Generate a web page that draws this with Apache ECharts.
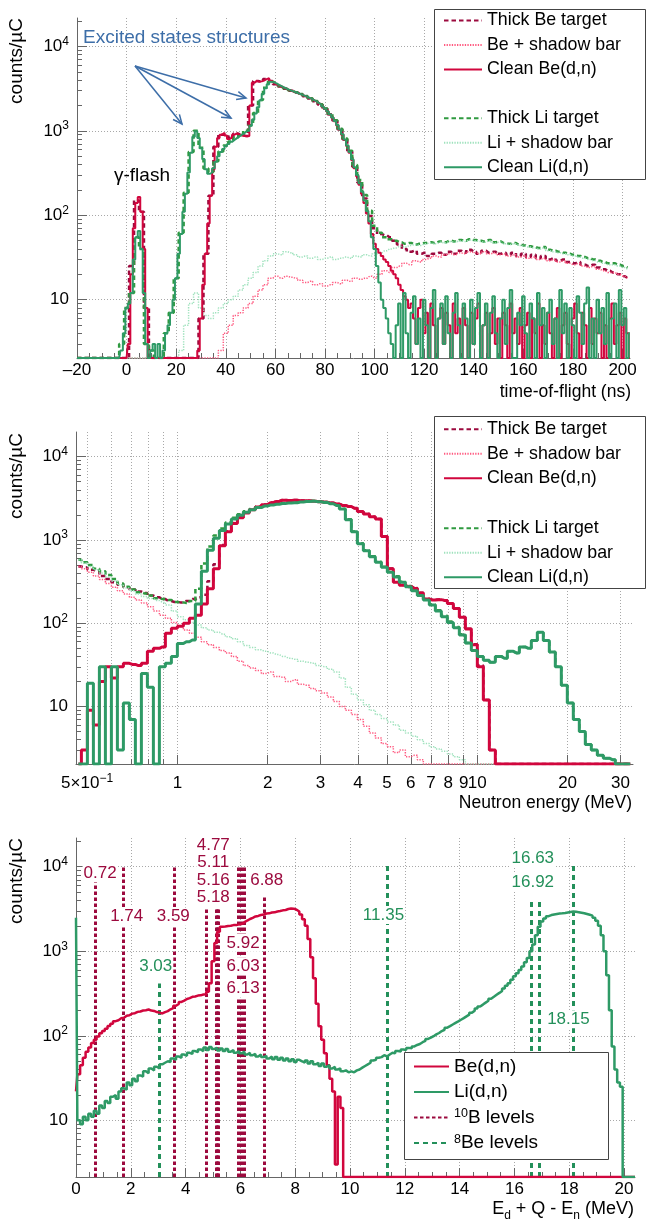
<!DOCTYPE html>
<html><head><meta charset="utf-8">
<script src="https://cdn.jsdelivr.net/npm/echarts@6/dist/echarts.min.js"></script>
<style>html,body{margin:0;padding:0;background:#fff}#c{width:648px;height:1223px}</style>
</head><body><div id="c"></div>
<script>
// ---------------- DATA ----------------
// Panel 1: time-of-flight spectra (counts/uC), 1 ns bins starting at -20 ns
const tofStart = -20, tofStep = 1;
const cleanBeTof = [
0,0,0,0,0,0,0,0,0,0, 0,0,0,0,0,0,0,0,0,0,
0,3,20,70,140,165,110,40,8,0, 0,0,0,0,0,0,0,0,0,0,
0,0,0,0,0,0,0,0,0,2.5, 6,15,35,80,170,350,650,820,900,950,
880,800,830,900,930,900,880,870,860,870, 2000,3700,3900,3800,3850,3950,4100,4200,3900,3700,
3550,3450,3350,3250,3150,3050,2980,2900,2830,2760, 2700,2620,2550,2470,2400,2320,2230,2140,2040,1930,
1810,1690,1560,1430,1300,1160,1030,900,780,660, 550,450,360,290,230,180,140,105,80,60,
46,40,36,33,30,28,25,22,20,18, 15,13,11,10,8,9,6,3,8,10,
4,7,2,9,5,0,6,8,3,7, 5,0,9,4,6,2,8,5,0,7,
3,6,9,2,5,7,0,4,8,3, 6,2,7,5,0,9,4,6,3,8,
0,5,7,2,6,4,9,0,5,3, 7,4,0,6,8,2,5,7,3,0,
6,9,4,2,7,5,0,8,3,6, 4,7,2,5,0,6,9,3,5,7,
2,6,4,0];
const cleanLiTof = [
0,0,0,0,0,0,0,0,0,0, 0,0,0,0,0,0,0,0,2.5,4,
8,9,12,30,55,65,40,12,3,0, 2.5,3,0,3,0,2.5,4,5,7,10,
18,35,60,110,180,320,550,850,990,820, 620,460,350,310,320,360,430,500,560,610,
660,700,740,780,820,860,900,940,990,1000, 1150,1350,1600,1900,2300,2750,3200,3550,3800,3750,
3650,3500,3380,3270,3170,3070,2990,2910,2840,2770, 2700,2630,2560,2480,2410,2330,2240,2150,2050,1940,
1820,1700,1570,1440,1310,1170,1040,910,790,670, 560,460,370,300,240,190,150,112,85,55,
40,25,16,10,8,6,4,3,0,5, 9,2,12,4,0,7,11,3,6,0,
10,5,2,8,13,0,6,9,3,11, 4,0,7,12,5,2,9,6,0,10,
3,8,12,0,5,9,2,7,11,4, 0,6,10,3,8,13,2,0,7,5,
11,4,0,9,6,2,12,5,8,0, 7,10,3,6,0,13,4,9,2,8,
5,0,11,7,3,9,14,2,6,0, 10,4,8,3,12,0,6,9,2,13,
5,8,0,4];
// 2 ns bins starting at -20 ns
const tof2Start = -20, tof2Step = 2;
const thickBeTof = [
0,0,0,0,0,0,0,0,0,0, 0,25,150,110,8,0,0,0,0,0,
0,0,0,0,0,6,35,170,650,900, 890,830,930,890,870,2000,3900,3850,4100,3900,
3560,3360,3160,2990,2840,2710,2560,2410,2240,2050, 1820,1575,1315,1045,795,565,375,245,158,98,
70,60,58,55,50,45,40,37,38,35, 36,33,35,36,34,37,35,38,36,39,
37,35,38,36,37,35,36,34,36,33, 35,32,34,31,33,30,31,29,30,28,
27,28,26,25,26,24,23,22,21,20, 19,18];
const beShadowTof = [
0,0,0,0,0,0,0,0,0,0, 0,0,0,0,0,0,0,0,0,0,
0,0,0,0,0,0,0,0,0,2.5, 4,5,6.5,7,8,9,11,13,15,18,
19,18,19,18.5,18,17,16,16.5,15,15.5, 14.5,15,16,15.5,17,16.5,18,17.5,18,19,
18,20,22,21,24,25,27,26,29,28, 30,31,33,32,34,35,34,36,35,37,
36,35,37,35,36,34,35,33,34,32, 33,31,32,30,31,29,30,28,29,27,
26,27,25,24,25,23,22,21,21,20, 19,18];
const thickLiTof = [
0,0,0,0,0,0,0,0,0,3, 8,12,55,40,3,2.5,0,0,4,7,
18,62,185,560,1000,630,357,326,437,568, 669,750,831,913,1005,1168,1621,2325,3229,3833,
3685,3384,3187,3016,2864,2732,2583,2431,2262,2070, 1841,1592,1330,1061,812,581,393,262,174,113,
75,62,55,52,50,48,46,47,45,46, 47,48,47,49,48,50,49,51,50,52,
51,50,49,51,48,49,47,46,47,45, 44,43,42,41,42,39,38,37,36,35,
34,33,32,31,30,29,28,27,27,26, 25,24];
const liShadowTof = [
0,0,0,0,0,0,0,0,0,0, 0,0,0,0,0,0,0,0,0,0,
0,2.5,5,9,12,8,6.5,6,7,8, 9,10,11,13,15,18,21,25,29,33,
35,34,37,36,34,32,33,31,32,30, 31,32,30,31,32,31,33,32,34,33,
35,36,38,40,41,43,42,44,45,44, 46,47,46,48,47,49,48,50,49,51,
50,49,48,50,47,48,46,45,46,44, 43,42,41,40,41,38,37,36,35,34,
33,32,31,30,29,28,27,26,26,25, 24,23];

// Panel 2: neutron energy spectra, bins in log10(E/MeV) from -0.33, step 0.02
const enLogStart = -0.33, enLogStep = 0.02;
const cleanBeEn = [
0,3,9,6,20,30,22,30,33,32, 31,33,46,50,52,76,87,92,100,115,
125,170,260,450,850,1250,1580,1850,2100,2300, 2480,2650,2800,2900,3000,2980,3000,2960,2950,2920,
2880,2840,2780,2700,2600,2520,2400,2200,2050,1900, 1780,1100,450,310,285,275,262,230,195,190,
192,188,172,150,118,85,55,30,12,3, 0,0,0,0,0,0,0,0,0,0,
0,0,0,0,0,0,0,0,0,0, 0,0,0];
const cleanLiEn = [
0,0,19,0,30,0,30,3,11,7, 0,25,17,0,30,33,40,57,60,63,
170,420,750,1050,1300,1550,1780,1980,2150,2300, 2450,2550,2620,2680,2730,2770,2800,2850,2900,2920,
2880,2820,2720,2600,2350,1750,1250,900,740,630, 540,470,410,360,310,275,245,215,190,165,
140,120,102,88,72,58,47,40,36,34, 40,38,46,44,52,50,62,78,62,45,
30,18,11,7,5,3.5,3,2.6,2.4,2.3, 0,0,0];
const thickBeEn = [
480,470,440,420,370,340,310,290,270,255, 240,230,215,205,195,185,180,178,185,195,
205,220,320,510,870,1270,1600,1870,2115,2315, 2495,2665,2815,2915,3015,2990,3010,2970,2960,2930,
2890,2850,2790,2710,2610,2530,2410,2210,2060,1905, 1785,1105,455,315,288,278,264,232,197,191,
193,189,173,151,119,86,56,31,12,3, 0,0,0,0,0,0,0,0,0,0,
0,0,0,0,0,0,0,0,0,0, 0,0,0];
const beShadowEn = [
480,450,410,370,335,300,270,245,225,205, 190,175,158,140,125,115,102,92,83,76,
68,60,55,51,47,44,40,35,31,29, 27,25,26,23,22.5,20,21,18.5,18,16.5,
15.5,14.5,13,11.5,10,9,8,7,5.8,4.8, 4.2,3.6,3.3,2.8,3.0,2.5,2.6,2.3,0,0,
0,0,0,0,0,0,0,0,0,0, 0,0,0,0,0,0,0,0,0,0,
0,0,0,0,0,0,0,0,0,0, 0,0,0];
const thickLiEn = [
580,540,500,450,420,380,340,300,275,255, 235,228,215,200,195,190,180,178,175,185,
260,520,835,1130,1375,1620,1845,2040,2205,2350, 2500,2595,2665,2720,2770,2810,2835,2885,2935,2955,
2910,2850,2750,2625,2372,1767,1264,912,750,639, 548,477,416,366,315,280,249,219,194,168,
143,123,105,90,74,58,47,40,36,34, 40,38,46,44,52,50,62,78,62,45,
30,18,11,7,5,3.5,3,2.6,2.4,2.3, 0,0,0];
const liShadowEn = [
580,530,480,440,400,360,320,290,265,245, 225,210,198,188,178,165,140,120,110,102,
95,88,83,78,74,69,65,60,54,51, 48,46,44,42,40,38,37,35,34,33,
31,30,28,26,22,17,14,12,10.5,9, 8,7.2,6.5,6,5.2,4.8,4.4,4,3.6,3.3,
3.1,2.9,2.7,2.5,2.3,0,0,0,0,0, 0,0,0,0,0,0,0,0,0,0,
0,0,0,0,0,0,0,0,0,0, 0,0,0];

// Panel 3: excitation energy Ed+Q-En (MeV), bins from 0, step 0.1
const exStart = 0, exStep = 0.1;
const beEx = [
22,35,45,55,65,73,82,90,98,107, 114,121,131,139,149,153,161,164,173,175,
183,185,192,194,199,201,205,199,197,191, 188,184,191,196,206,213,227,238,252,261,
273,279,289,292,299,301,308,310,331,420, 760,1250,1700,1950,1960,1990,2000,2040,2040,2080,
2100,2210,2310,2410,2490,2580,2620,2690,2720,2800, 2810,2870,2890,2960,2990,3050,3080,3160,3200,3190,
3100,2950,2720,2400,2000,1400,850,480,240,130, 90,62,45,31,22,3,19,14,0,0,
0,0,0,0,0,0,0,0,0,0, 0,0,0,0,0,0,0,0,0,0,
0,0,0,0,0,0,0,0,0,0, 0,0,0,0,0,0,0,0,0,0,
0,0,0,0,0,0,0,0,0,0, 0,0,0,0,0,0,0,0,0,0,
0,0,0,0,0,0,0,0,0,0, 0,0,0,0,0,0,0,0,0,0,
0,0,0,0,0,0,0,0,0,0, 0,0,0,0,0,0,0,0,0,0,
0,0,0,0,0];
const liEx = [
2500,10,9,11,10,12,11,13,12,15, 14,17,16,19,20,18,22,24,23,28,
26,31,29,34,33,38,36,41,39,43, 41,46,48,50,49,54,52,57,55,60,
58,63,61,66,64,69,66,73,68,74, 70,72,67,71,66,70,65,68,63,66,
62,65,60,63,59,61,57,60,56,58, 54,57,53,56,52,55,51,54,50,53,
49,52,50,48,51,47,50,46,48,44, 47,43,45,41,43,40,41,38,39,37,
38,37,39,40,42,44,46,48,51,52, 55,56,59,57,60,63,62,66,65,69,
68,72,71,75,78,80,84,87,92,95, 99,104,108,114,118,125,130,136,142,148,
155,162,170,178,188,198,210,222,234,247, 260,275,290,306,322,340,362,390,420,460,
505,550,600,660,740,830,1000,1200,1550,1950, 2250,2450,2600,2680,2720,2760,2790,2810,2840,2880,
2920,2950,2930,2900,2860,2820,2760,2700,2640,2500, 2300,2000,1550,1000,520,200,75,40,28,25,
0,0,0,0,0];
// Nuclear levels (MeV) and drawn line tops (counts/uC)
const b10Levels = [0.72,1.74,3.59,4.77,5.11,5.16,5.18,5.92,6.03,6.13,6.88];
const b10Tops   = [6560,10500,10500,3330,3300,3300,3300,10500,10500,10500,4570];
const be8Levels = [3.03,11.35,16.63,16.92,18.15];
const be8Tops   = [415,10500,4060,4060,10500];

// Tick labels
const yMajorVals = [10,100,1000,10000];
const yMinorVals = [3,4,5,6,7,8,9,20,30,40,50,60,70,80,90,200,300,400,500,600,700,800,900,
                    2000,3000,4000,5000,6000,7000,8000,9000,20000];
const tofTicks = [-20,0,20,40,60,80,100,120,140,160,180,200];
const enTicks = [0.5,1,2,3,4,5,6,7,8,9,10,20,30];
const enGridExtra = [0.6,0.7,0.8,0.9];
const exTicks = [0,2,4,6,8,10,12,14,16,18,20];

// ---------------- LAYOUT / STYLE ----------------
const FONT = '"Liberation Sans", Arial, Helvetica, sans-serif';
const C = {thickBe:'#9c0a3e', beShadow:'#ff5a80', cleanBe:'#d1063d',
  thickLi:'#2f9a40', liShadow:'#9fe2bd', cleanLi:'#2e9a66',
  lvB:'#9c0a3e', lvBe:'#23905a', annot:'#3d6ea8', grid:'#a8a8a8', axis:'#666'};
const P = [
  {left:77, top:18, width:553, height:340, xmin:-20, xmax:203, ymin:0.31, ymax:4.336, lm:4},
  {left:76, top:432, width:557, height:332, xmin:-0.338, xmax:1.519, ymin:0.31, ymax:4.296, lm:8.5},
  {left:76, top:838, width:559, height:339, xmin:0, xmax:20.4, ymin:0.33, ymax:4.34, lm:4}
];
// level label layout: text, x (MeV), y (log10 counts), colour key
const levelLabelLayout = [
  ['0.72',0.88,3.922,'b'],['1.74',1.85,3.416,'b'],['3.59',3.55,3.408,'b'],
  ['4.77',5.01,4.257,'b'],['5.11',5.01,4.047,'b'],['5.16',5.01,3.842,'b'],['5.18',5.01,3.637,'b'],
  ['6.88',6.96,3.842,'b'],['5.92',6.1,3.10,'b'],['6.03',6.1,2.823,'b'],['6.13',6.1,2.559,'b'],
  ['3.03',2.91,2.823,'g'],['11.35',11.22,3.428,'g'],['16.63',16.67,4.10,'g'],['16.92',16.67,3.81,'g'],
  ['18.15',17.97,2.196,'g']
];

function pairs(start, step, vals, ymin) {
  return vals.map((v, i) => [Math.round((start + i * step) * 1e5) / 1e5,
    v > 0 ? Math.max(Math.log10(v), ymin) : ymin]);
}
function between(list, a, b, s) { const r = []; for (let v = a; v <= b + 1e-9; v += s) { const vv = Math.round(v*1000)/1000; if (!list.includes(vv)) r.push(vv); } return r; }

const L10 = v => Math.log10(v);
const rich = {sup: {fontSize: 12, verticalAlign: 'top', lineHeight: 22, fontFamily: FONT, color: '#000'}};
function yFmt(v) { const e = Math.round(v); return e === 1 ? '10' : '10{sup|' + e + '}'; }

function xMajor(g, ticks, fmt, extra) {
  const p = P[g];
  return {type:'value', gridIndex:g, min:p.xmin, max:p.xmax, position:'bottom',
    axisLine:{show:true, onZero:false, lineStyle:{color:C.axis, width:1}},
    axisTick:{show:true, inside:true, length:9, customValues:ticks, lineStyle:{color:C.axis}},
    axisLabel:{show:true, customValues:ticks, formatter:fmt, margin:p.lm, color:'#000', fontSize:17,
      fontFamily:FONT, showMinLabel:true, showMaxLabel:true, ...(extra||{})},
    splitLine:{show:true, lineStyle:{color:C.grid, width:1, type:[1,2]}}};
}
function xMinor(g, ticks, grid) {
  const p = P[g];
  return {type:'value', gridIndex:g, min:p.xmin, max:p.xmax, position:'bottom',
    axisLine:{show:false, onZero:false},
    axisTick:{show:true, inside:true, length:5, customValues:ticks, lineStyle:{color:C.axis}},
    axisLabel:{show:false}, splitLine:{show:!!grid, lineStyle:{color:C.grid, width:1, type:[1,2]}}};
}
function yMajor(g) {
  const p = P[g];
  return {type:'value', gridIndex:g, min:p.ymin, max:p.ymax, position:'left',
    axisLine:{show:true, onZero:false, lineStyle:{color:C.axis, width:1}},
    axisTick:{show:true, inside:true, length:10, customValues:yMajorVals.map(L10), lineStyle:{color:C.axis}},
    axisLabel:{show:true, customValues:yMajorVals.map(L10), formatter:yFmt, margin:8, color:'#000',
      fontSize:17, fontFamily:FONT, lineHeight:22, rich:rich},
    splitLine:{show:true, lineStyle:{color:C.grid, width:1, type:[1,2]}}};
}
function yMinor(g) {
  const p = P[g];
  return {type:'value', gridIndex:g, min:p.ymin, max:p.ymax, position:'left',
    axisLine:{show:false, onZero:false},
    axisTick:{show:true, inside:true, length:5, customValues:yMinorVals.map(L10), lineStyle:{color:C.axis}},
    axisLabel:{show:false}, splitLine:{show:false}};
}
function ser(name, g, data, color, width, type, z) {
  return {type:'line', name, xAxisIndex:2*g, yAxisIndex:2*g, data, step:'middle', symbol:'none',
    showSymbol:false, lineStyle:{color, width, type:type||'solid'}, itemStyle:{color},
    silent:true, animation:false, z:z||2, emphasis:{disabled:true}};
}
function levelSeries(name, levels, tops, color, width, dash, labelKey) {
  return {type:'line', name, xAxisIndex:4, yAxisIndex:4, data:[], symbol:'none',
    lineStyle:{color, width, type:dash}, itemStyle:{color}, silent:true, animation:false,
    markLine:{silent:true, z:1, animation:false, symbol:['none','none'], label:{show:false},
      emphasis:{disabled:true}, lineStyle:{color, width, type:dash},
      data: levels.map((e,i) => [{coord:[e, P[2].ymin]}, {coord:[e, L10(tops[i])]}])},
    markPoint:{silent:true, z:10, animation:false, symbol:'rect', symbolSize:[1,1],
      itemStyle:{color:'rgba(0,0,0,0)'},
      label:{show:true, position:'inside', formatter:'{b}', fontSize:17, fontFamily:FONT, color,
        backgroundColor:'#fff', padding:[1,1,0,1]},
      data: levelLabelLayout.filter(l => l[3] === labelKey).map(l => ({name:l[0], coord:[l[1], l[2]]}))}};
}

const g1 = 0, g2 = 1, g3 = 2;
const series = [
  ser('Thick Be target', g1, pairs(tof2Start, tof2Step, thickBeTof, P[0].ymin), C.thickBe, 2.5, [4.5,3]),
  ser('Be + shadow bar', g1, pairs(tof2Start, tof2Step, beShadowTof, P[0].ymin), C.beShadow, 1.5, [1.3,1.3]),
  ser('Thick Li target', g1, pairs(tof2Start, tof2Step, thickLiTof, P[0].ymin), C.thickLi, 2.5, [4.5,3]),
  ser('Li + shadow bar', g1, pairs(tof2Start, tof2Step, liShadowTof, P[0].ymin), C.liShadow, 1.5, [1.3,1.3]),
  ser('Clean Be(d,n)', g1, pairs(tofStart, tofStep, cleanBeTof, P[0].ymin), C.cleanBe, 2),
  ser('Clean Li(d,n)', g1, pairs(tofStart, tofStep, cleanLiTof, P[0].ymin), C.cleanLi, 2),

  ser('Thick Be target ', g2, pairs(enLogStart, enLogStep, thickBeEn, P[1].ymin), C.thickBe, 2.5, [4.5,3]),
  ser('Be + shadow bar ', g2, pairs(enLogStart, enLogStep, beShadowEn, P[1].ymin), C.beShadow, 1.5, [1.3,1.3]),
  ser('Thick Li target ', g2, pairs(enLogStart, enLogStep, thickLiEn, P[1].ymin), C.thickLi, 2.5, [4.5,3]),
  ser('Li + shadow bar ', g2, pairs(enLogStart, enLogStep, liShadowEn, P[1].ymin), C.liShadow, 1.5, [1.3,1.3]),
  ser('Clean Be(d,n) ', g2, pairs(enLogStart, enLogStep, cleanBeEn, P[1].ymin), C.cleanBe, 3),
  ser('Clean Li(d,n) ', g2, pairs(enLogStart, enLogStep, cleanLiEn, P[1].ymin), C.cleanLi, 3),

  levelSeries('10B levels', b10Levels, b10Tops, C.lvB, 3, [3.5,2.5], 'b'),
  levelSeries('8Be levels', be8Levels, be8Tops, C.lvBe, 3, [5,4], 'g'),
  ser('Be(d,n)', g3, pairs(exStart, exStep, beEx, P[2].ymin), C.cleanBe, 2.5, 'solid', 3),
  ser('Li(d,n)', g3, pairs(exStart, exStep, liEx, P[2].ymin), C.cleanLi, 2.5, 'solid', 3)
];

const tofFmt = v => v < 0 ? '\u2013' + (-v) : String(v);
const enFmt = v => { const e = Math.pow(10, v); return Math.abs(e - 0.5) < 1e-6 ? '5\u00d710{sup|\u22121}' : String(Math.round(e)); };

const xAxis = [
  xMajor(0, tofTicks, tofFmt), xMinor(0, between(tofTicks, -20, 200, 5)),
  xMajor(1, enTicks.map(L10), enFmt, {lineHeight:22, rich:rich}), xMinor(1, enGridExtra.map(L10), true),
  xMajor(2, exTicks, v => String(Math.round(v))), xMinor(2, between(exTicks, 0, 20, 0.5))
];
const yAxis = [yMajor(0), yMinor(0), yMajor(1), yMinor(1), yMajor(2), yMinor(2)];
const grid = P.map(p => ({left:p.left, top:p.top, width:p.width, height:p.height, containLabel:false, outerBoundsMode:'none'}));

const HIDDEN = 'rgba(0,0,0,0)';
function legend(left, top, names, fs, gap, iw, extra) {
  return Object.assign({left, top, orient:'vertical', itemWidth:iw, itemHeight:14, itemGap:gap, padding:0,
    selectedMode:false, data:names, z:6,
    itemStyle:{color:HIDDEN, borderColor:HIDDEN, borderWidth:0, opacity:0},
    textStyle:{fontSize:fs, fontFamily:FONT, color:'#000', lineHeight:20}}, extra || {});
}
const legends = [
  legend(443, 10.5, ['Thick Be target','Be + shadow bar','Clean Be(d,n)'], 17.8, 4.5, 38),
  legend(443, 108.2, ['Thick Li target','Li + shadow bar','Clean Li(d,n)'], 17.8, 4.5, 38),
  legend(443, 419.2, ['Thick Be target ','Be + shadow bar ','Clean Be(d,n) '], 17.8, 4.5, 38),
  legend(443, 518.2, ['Thick Li target ','Li + shadow bar ','Clean Li(d,n) '], 17.8, 4.5, 38),
  legend(413, 1056.5, ['Be(d,n)','Li(d,n)','10B levels','8Be levels'], 19, 5.5, 35, {
    formatter: n => n === '10B levels' ? '{sup|10}B levels' : n === '8Be levels' ? '{sup|8}Be levels' : n,
    textStyle:{fontSize:19, fontFamily:FONT, color:'#000', lineHeight:20,
      rich:{sup:{fontSize:12.5, verticalAlign:'top', lineHeight:20, fontFamily:FONT, color:'#000'}}}})
];

function arrow(x1, y1, x2, y2) {
  const a = Math.atan2(y2 - y1, x2 - x1), L = 10, w = 0.42;
  const p1 = [x2 - L*Math.cos(a - w), y2 - L*Math.sin(a - w)], p2 = [x2 - L*Math.cos(a + w), y2 - L*Math.sin(a + w)];
  return [
    {type:'line', z:20, shape:{x1, y1, x2, y2}, style:{stroke:C.annot, lineWidth:1.5}},
    {type:'polyline', z:20, shape:{points:[p1, [x2, y2], p2]}, style:{stroke:C.annot, lineWidth:1.5, fill:null}}
  ];
}
function txt(x, y, text, fs, align, extra) {
  return Object.assign({type:'text', x, y, z:20, style:Object.assign({text, fontSize:fs, fontFamily:FONT,
    fill:'#000', align:align, verticalAlign:'middle'}, extra || {})});
}
const graphic = [
  {type:'rect', z:3, shape:{x:434.5, y:9.5, width:211, height:170}, style:{fill:'#fff', stroke:'#444', lineWidth:1}},
  {type:'rect', z:3, shape:{x:434.5, y:416.5, width:211, height:172}, style:{fill:'#fff', stroke:'#444', lineWidth:1}},
  {type:'rect', z:3, shape:{x:404.5, y:1052.5, width:204, height:107}, style:{fill:'#fff', stroke:'#444', lineWidth:1}},
  Object.assign(txt(17, 18, 'counts/\u00b5C', 19, 'right'), {rotation:Math.PI/2}),
  Object.assign(txt(17, 433, 'counts/\u00b5C', 19, 'right'), {rotation:Math.PI/2}),
  Object.assign(txt(17, 838, 'counts/\u00b5C', 19, 'right'), {rotation:Math.PI/2}),
  txt(631, 392, 'time-of-flight (ns)', 17.5, 'right'),
  txt(632, 803, 'Neutron energy (MeV)', 17.5, 'right'),
  txt(634, 1209, 'E{sub|d} + Q - E{sub|n} (MeV)', 18, 'right', {lineHeight:26,
    rich:{sub:{fontSize:12, verticalAlign:'bottom', lineHeight:26, fontFamily:FONT, fill:'#000'}}}),
  txt(83, 38, 'Excited states structures', 19, 'left', {fill:C.annot}),
  txt(114, 176, '\u03b3-flash', 19, 'left'),
  ...arrow(135, 66, 182, 124), ...arrow(135, 66, 231, 118), ...arrow(135, 66, 246, 98)
];

const chart = echarts.init(document.getElementById('c'), null, {renderer:'canvas'});
chart.setOption({
  animation:false, backgroundColor:'#fff', textStyle:{fontFamily:FONT},
  grid, xAxis, yAxis, series, legend:legends, graphic
});
</script></body></html>
